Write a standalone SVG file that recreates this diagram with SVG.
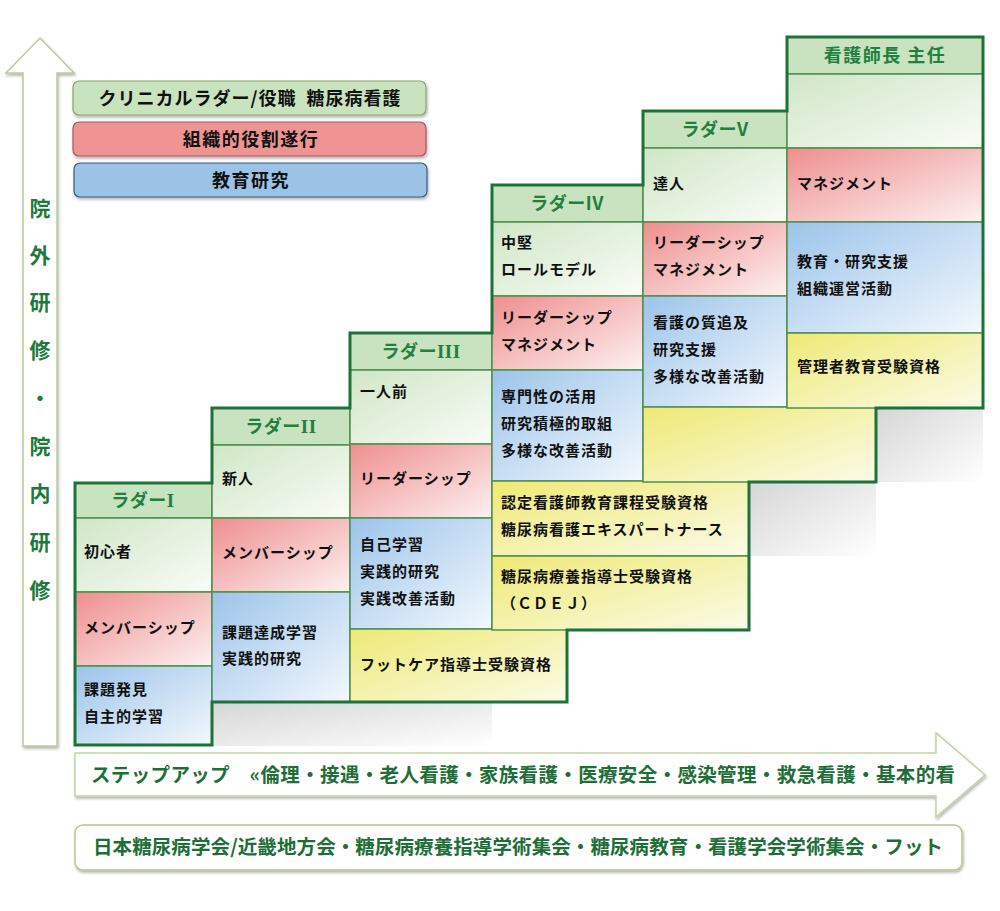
<svg xmlns="http://www.w3.org/2000/svg" width="1000" height="911" viewBox="0 0 1000 911">
<defs>
<linearGradient id="gG" x1="0" y1="0" x2="1" y2="1"><stop offset="0" stop-color="#d0e6c6"/><stop offset="1" stop-color="#f9fcf7"/></linearGradient>
<linearGradient id="gR" x1="0" y1="0" x2="1" y2="1"><stop offset="0" stop-color="#ef8e8e"/><stop offset="1" stop-color="#fdf1f1"/></linearGradient>
<linearGradient id="gB" x1="0" y1="0" x2="1" y2="1"><stop offset="0" stop-color="#9cc4ea"/><stop offset="1" stop-color="#f3f8fd"/></linearGradient>
<linearGradient id="gY" x1="0" y1="0" x2="1" y2="1"><stop offset="0" stop-color="#eee975"/><stop offset="1" stop-color="#fbfbe8"/></linearGradient>
<linearGradient id="gS" x1="0" y1="0" x2="1" y2="1"><stop offset="0" stop-color="#d6d6d6"/><stop offset="1" stop-color="#ffffff"/></linearGradient>
<filter id="sh" x="-5%" y="-20%" width="110%" height="150%"><feDropShadow dx="1" dy="2" stdDeviation="1.5" flood-color="#000" flood-opacity="0.3"/></filter>
</defs>
<style>
.hd{fill:#c9e2bf;stroke:#4f8f4f;stroke-width:1.5}
.cg{fill:url(#gG);stroke:#4f8f4f;stroke-width:1.5}
.cr{fill:url(#gR);stroke:#4f8f4f;stroke-width:1.5}
.cb{fill:url(#gB);stroke:#4f8f4f;stroke-width:1.5}
.cy{fill:url(#gY);stroke:#4f8f4f;stroke-width:1.5}
.sd{fill:url(#gS)}
.ht{font-family:"Noto Sans CJK JP","Noto Sans",sans-serif;font-weight:bold;font-size:18px;fill:#22803f;text-anchor:middle;letter-spacing:0.5px}
.rn{font-family:"Liberation Serif",serif;font-size:19px}
.t{font-family:"Noto Sans CJK JP","Noto Sans",sans-serif;font-weight:bold;font-size:15px;fill:#111;letter-spacing:1px}
.lg{font-family:"Noto Sans CJK JP","Noto Sans",sans-serif;font-weight:bold;font-size:18px;fill:#111;text-anchor:middle;letter-spacing:1.5px}
.gt{font-family:"Noto Sans CJK JP","Noto Sans",sans-serif;font-weight:bold;font-size:19.5px;fill:#1d6e37}
.vt{font-family:"Noto Sans CJK JP","Noto Sans",sans-serif;font-weight:bold;font-size:21px;fill:#1d7a3a;text-anchor:middle}
</style>
<rect width="1000" height="911" fill="#ffffff"/>

<g id="shadows">
<rect class="sd" x="212" y="702" width="280" height="44"/>
<rect class="sd" x="749" y="482" width="127" height="74"/>
<rect class="sd" x="876" y="408" width="107" height="74"/>
</g>

<g id="left-arrow">
<polygon points="40,38 74,73 57,73 57,746 23,746 23,73 6,73" fill="#ffffff" stroke="#b8cc98" stroke-width="1.5" filter="url(#sh)"/>
<text class="vt" x="40" y="216">院</text>
<text class="vt" x="40" y="263">外</text>
<text class="vt" x="40" y="310">研</text>
<text class="vt" x="40" y="358">修</text>
<text class="vt" x="40" y="406">・</text>
<text class="vt" x="40" y="454">院</text>
<text class="vt" x="40" y="501">内</text>
<text class="vt" x="40" y="550">研</text>
<text class="vt" x="40" y="598">修</text>
</g>

<g id="legend">
<rect x="73" y="81" width="353" height="34" rx="6" fill="#c9e3bf" stroke="#8aa26e" stroke-width="1.2" filter="url(#sh)"/>
<text class="lg" x="250" y="105" xml:space="preserve" style="letter-spacing:1px">クリニカルラダー/役職  糖尿病看護</text>
<rect x="73" y="122" width="353" height="34" rx="6" fill="#f09393" stroke="#a05a5a" stroke-width="1.2" filter="url(#sh)"/>
<text class="lg" x="251" y="146">組織的役割遂行</text>
<rect x="74" y="163" width="353" height="34" rx="6" fill="#9ac3e6" stroke="#3d5a80" stroke-width="1.2" filter="url(#sh)"/>
<text class="lg" x="251" y="187">教育研究</text>
</g>

<g id="ladder1">
<rect class="hd" x="75" y="483" width="137" height="35"/>
<rect class="cg" x="75" y="518" width="137" height="74"/>
<rect class="cr" x="75" y="592" width="137" height="74"/>
<rect class="cb" x="75" y="666" width="137" height="79"/>
<text class="ht" x="143" y="507">ラダー<tspan class="rn">I</tspan></text>
<text class="t" x="84" y="557">初心者</text>
<text class="t" x="84" y="633">メンバーシップ</text>
<text class="t" x="84" y="695">課題発見</text>
<text class="t" x="84" y="722">自主的学習</text>
</g>

<g id="ladder2">
<rect class="hd" x="212" y="408" width="138" height="37"/>
<rect class="cg" x="212" y="445" width="138" height="73"/>
<rect class="cr" x="212" y="518" width="138" height="74"/>
<rect class="cb" x="212" y="592" width="138" height="110"/>
<text class="ht" x="281" y="433">ラダー<tspan class="rn">II</tspan></text>
<text class="t" x="222" y="484">新人</text>
<text class="t" x="222" y="558">メンバーシップ</text>
<text class="t" x="222" y="638">課題達成学習</text>
<text class="t" x="222" y="664">実践的研究</text>
</g>

<g id="ladder3">
<rect class="hd" x="350" y="333" width="142" height="37"/>
<rect class="cg" x="350" y="370" width="142" height="74"/>
<rect class="cr" x="350" y="444" width="142" height="74"/>
<rect class="cb" x="350" y="518" width="142" height="111"/>
<rect class="cy" x="350" y="629" width="217" height="73"/>
<text class="ht" x="421" y="358">ラダー<tspan class="rn">III</tspan></text>
<text class="t" x="360" y="397">一人前</text>
<text class="t" x="360" y="484">リーダーシップ</text>
<text class="t" x="360" y="550">自己学習</text>
<text class="t" x="360" y="577">実践的研究</text>
<text class="t" x="360" y="604">実践改善活動</text>
<text class="t" x="360" y="670">フットケア指導士受験資格</text>
</g>

<g id="ladder4">
<rect class="hd" x="492" y="185" width="151" height="37"/>
<rect class="cg" x="492" y="222" width="151" height="74"/>
<rect class="cr" x="492" y="296" width="151" height="74"/>
<rect class="cb" x="492" y="370" width="151" height="111"/>
<rect class="cy" x="492" y="481" width="257" height="75"/>
<rect class="cy" x="492" y="556" width="257" height="74"/>
<text class="ht" x="567" y="210">ラダーIV</text>
<text class="t" x="501" y="248">中堅</text>
<text class="t" x="501" y="275">ロールモデル</text>
<text class="t" x="501" y="323">リーダーシップ</text>
<text class="t" x="501" y="350">マネジメント</text>
<text class="t" x="501" y="402">専門性の活用</text>
<text class="t" x="501" y="429">研究積極的取組</text>
<text class="t" x="501" y="456">多様な改善活動</text>
<text class="t" x="501" y="508">認定看護師教育課程受験資格</text>
<text class="t" x="501" y="535">糖尿病看護エキスパートナース</text>
<text class="t" x="501" y="582">糖尿病療養指導士受験資格</text>
<text class="t" x="501" y="609">（ＣＤＥＪ）</text>
</g>

<g id="ladder5">
<rect class="hd" x="643" y="111" width="144" height="37"/>
<rect class="cg" x="643" y="148" width="144" height="74"/>
<rect class="cr" x="643" y="222" width="144" height="74"/>
<rect class="cb" x="643" y="296" width="144" height="111"/>
<rect class="cy" x="643" y="407" width="233" height="75"/>
<text class="ht" x="715" y="136">ラダーV</text>
<text class="t" x="653" y="189">達人</text>
<text class="t" x="653" y="248">リーダーシップ</text>
<text class="t" x="653" y="275">マネジメント</text>
<text class="t" x="653" y="328">看護の質追及</text>
<text class="t" x="653" y="355">研究支援</text>
<text class="t" x="653" y="382">多様な改善活動</text>
</g>

<g id="head-nurse">
<rect class="hd" x="787" y="37" width="196" height="37"/>
<rect class="cg" x="787" y="74" width="196" height="74"/>
<rect class="cr" x="787" y="148" width="196" height="74"/>
<rect class="cb" x="787" y="222" width="196" height="111"/>
<rect class="cy" x="787" y="333" width="196" height="75"/>
<text class="ht" x="885" y="62" style="letter-spacing:1.5px">看護師長 主任</text>
<text class="t" x="797" y="189">マネジメント</text>
<text class="t" x="797" y="267">教育・研究支援</text>
<text class="t" x="797" y="294">組織運営活動</text>
<text class="t" x="797" y="372">管理者教育受験資格</text>
</g>

<g id="outline">
<path d="M75,745 V483 H212 V408 H350 V333 H492 V185 H643 V111 H787 V37 H983 V408 H876 V482 H749 V630 H567 V702 H212 V745 Z" fill="none" stroke="#1b7339" stroke-width="3" stroke-linejoin="miter"/>
</g>

<g id="stepup-arrow">
<polygon points="75,753 936,753 936,733 985,775 936,817 936,796 75,796" fill="#ffffff" stroke="#c2d4a6" stroke-width="1.5" filter="url(#sh)"/>
<text class="gt" x="91" y="782" textLength="864" lengthAdjust="spacing">ステップアップ　«倫理・接遇・老人看護・家族看護・医療安全・感染管理・救急看護・基本的看</text>
</g>

<g id="conferences">
<rect x="75" y="825" width="887" height="45" rx="8" fill="#ffffff" stroke="#b5c98e" stroke-width="1.5" filter="url(#sh)"/>
<text class="gt" x="93" y="854" textLength="850" lengthAdjust="spacing">日本糖尿病学会/近畿地方会・糖尿病療養指導学術集会・糖尿病教育・看護学会学術集会・フット</text>
</g>
</svg>
